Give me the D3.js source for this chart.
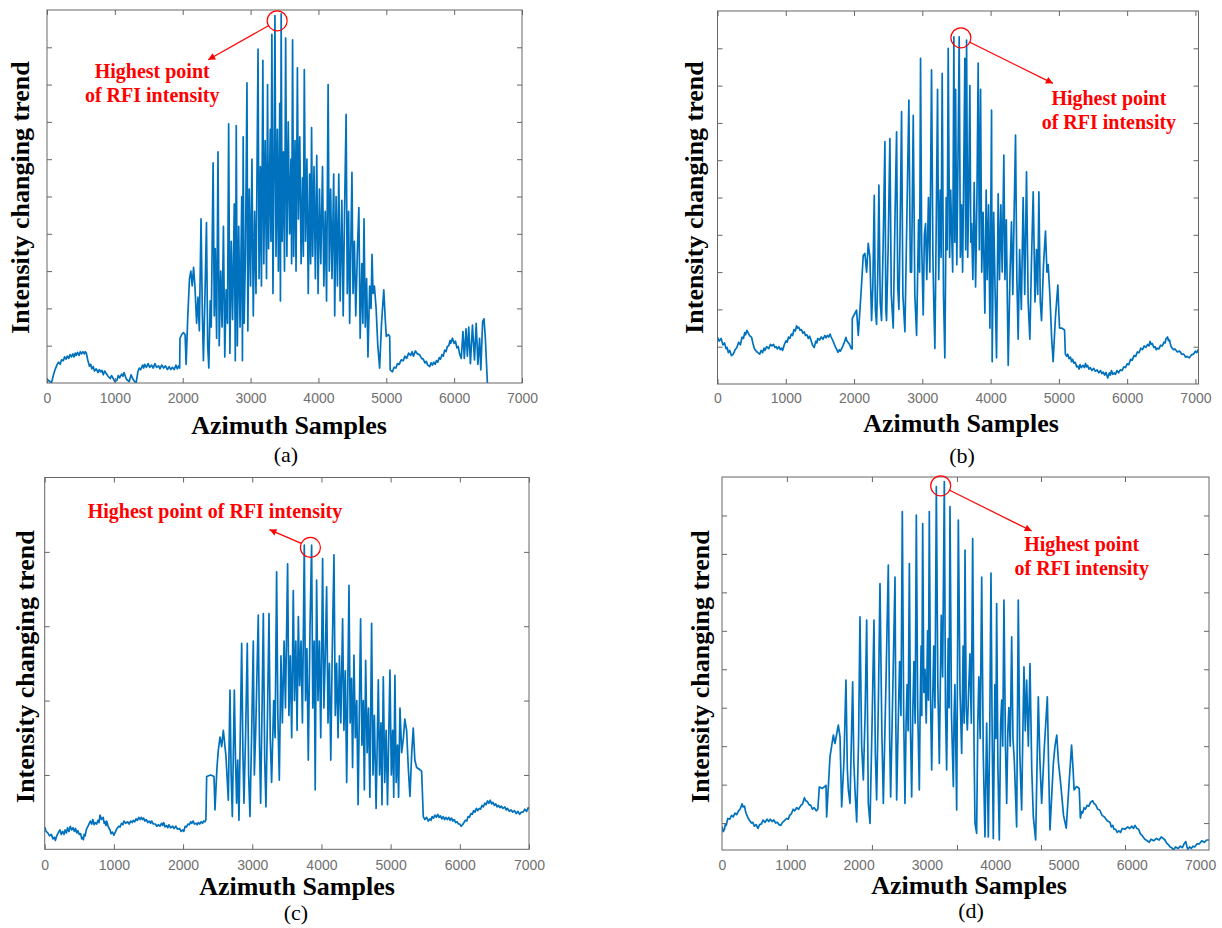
<!DOCTYPE html>
<html>
<head>
<meta charset="utf-8">
<script src="https://cdn.jsdelivr.net/npm/d3@7"></script>
<style>
  body { margin: 0; background: #fff; }
  svg { display: block; }
</style>
</head>
<body>
<svg id="fig" width="1222" height="928"></svg>
<script>
// Tick labels shared by all four x axes
const xTickLabels = [0, 1000, 2000, 3000, 4000, 5000, 6000, 7000]
// In panel (d) the tick marks do not sit under the labels
const tickMarksD = [950, 2195, 3440, 4670, 5900]

// [azimuth sample, intensity]
const trendA = [
  [0,0.1],[40,0.04],[66,0],[90,0.18],[117,0.35],[150,0.5],[170,0.56],[193,0.5],[215,0.62],[240,0.6],[260,0.7],[280,0.64],[300,0.72],[321,0.66],[340,0.76],[360,0.7],[380,0.78],[397,0.7],[415,0.8],[430,0.74],[450,0.82],[473,0.74],[490,0.84],[510,0.78],[530,0.84],[550,0.78],[565,0.84],[580,0.8],[600,0.62],[626,0.45],[645,0.5],[660,0.38],[680,0.44],[700,0.32],[725,0.38],[753,0.28],[770,0.36],[790,0.3],[810,0.34],[830,0.22],[850,0.32],[870,0.26],[900,0.18],[931,0.12],[950,0.2],[970,0.14],[1000,0.04],[1033,0.08],[1050,0.2],[1070,0.14],[1100,0.24],[1120,0.18],[1135,0.28],[1170,0.1],[1211,0.04],[1240,0.22],[1262,0.12],[1290,0.04],[1313,0],[1339,0.3],[1360,0.4],[1380,0.36],[1410,0.48],[1425,0.4],[1440,0.5],[1465,0.42],[1490,0.52],[1515,0.42],[1542,0.48],[1565,0.4],[1590,0.52],[1615,0.42],[1644,0.46],[1665,0.38],[1690,0.48],[1720,0.4],[1746,0.46],[1775,0.36],[1800,0.44],[1825,0.36],[1848,0.42],[1875,0.36],[1900,0.48],[1920,0.38],[1940,0.46],[1955,0.4],
  [1960,1.2],[1985,1.3],[2010,1.35],[2035,1.3],[2050,0.5],[2075,1.8],[2100,2.8],[2120,3.0],[2140,2.6],[2160,3.1],[2180,2.6],[2205,1.6],[2225,2.3],[2245,1.4],[2270,4.4],[2290,1.8],[2305,0.6],[2330,2.5],[2350,4.3],[2368,1.0],[2385,0.4],[2405,2.2],[2420,1.5],[2448,5.9],[2465,1.8],[2480,3.6],[2500,1.2],[2520,6.2],[2538,1.0],[2560,3.0],[2580,1.5],[2600,4.2],[2620,0.7],[2640,2.5],[2660,1.6],[2677,6.95],[2695,0.8],[2715,3.8],[2735,1.7],[2760,4.8],[2775,0.6],[2789,6.9],[2805,1.0],[2825,4.2],[2845,1.5],[2870,5.0],[2880,0.6],[2891,6.6],[2905,1.6],[2925,3.5],[2947,8.05],[2960,1.4],[2980,5.2],
  [3000,2.6],[3020,6.0],[3040,1.8],[3060,4.6],[3080,2.4],[3110,8.95],[3125,2.8],[3145,5.8],[3160,2.6],[3181,8.65],[3195,3.2],[3215,6.5],[3235,2.8],[3250,8.0],[3265,3.6],[3290,6.8],[3300,3.8],[3314,9.35],[3330,2.4],[3345,5.6],[3359,9.85],[3375,3.4],[3395,6.8],[3410,3.0],[3430,7.5],[3440,2.2],[3451,9.9],[3465,3.8],[3485,6.2],[3500,3.0],[3517,9.25],[3535,3.4],[3555,7.0],[3575,4.0],[3595,6.0],[3605,3.2],[3619,9.2],[3635,3.4],[3655,6.5],[3670,3.0],[3690,8.45],[3705,4.4],[3725,6.6],[3745,3.2],[3765,5.5],[3778,3.4],[3792,8.4],[3810,3.8],[3830,6.0],[3850,2.4],[3870,5.6],[3885,3.2],[3899,6.85],[3915,3.4],[3935,5.8],[3955,2.8],[3975,6.1],[3995,2.4],[4015,5.2],[4035,3.2],[4060,5.8],[4080,2.6],[4100,4.6],[4120,2.2],[4143,8.0],[4160,3.0],[4180,5.2],[4200,2.8],[4225,5.6],[4240,1.8],[4260,5.0],[4280,2.6],[4300,5.6],[4320,2.2],[4345,4.9],[4365,1.8],[4385,4.6],[4408,7.2],[4425,2.4],
  [4445,4.6],[4460,1.6],[4494,5.65],[4510,2.4],[4530,3.8],[4550,1.8],[4575,3.6],[4596,4.7],[4615,1.2],[4640,3.2],[4655,1.6],[4672,4.4],[4690,1.5],[4710,2.8],[4730,0.7],[4755,2.6],[4775,2.0],[4790,3.45],[4805,2.4],[4825,2.6],[4850,2.0],[4875,1.0],[4902,0.4],[4930,1.6],[4963,2.5],[4985,1.7],[5000,1.25],[5030,1.3],[5050,1.25],
  [5058,0.35],[5090,0.3],[5115,0.42],[5140,0.4],[5165,0.52],[5190,0.5],[5220,0.62],[5250,0.6],[5275,0.72],[5300,0.66],[5330,0.8],[5360,0.74],[5380,0.84],[5400,0.72],[5430,0.86],[5460,0.78],[5490,0.76],[5520,0.66],[5545,0.64],[5570,0.54],[5590,0.58],[5610,0.48],[5640,0.44],[5660,0.54],[5680,0.48],[5700,0.56],[5720,0.5],[5740,0.6],[5760,0.56],[5780,0.68],[5800,0.64],[5820,0.76],[5840,0.72],[5860,0.88],[5880,0.84],[5900,0.98],[5920,1.0],[5940,1.14],[5950,1.06],[5975,1.2],[6000,1.06],[6020,1.12],[6040,0.94],[6060,0.98],[6080,0.78],[6105,0.66],[6130,1.38],[6150,0.66],[6175,1.45],[6195,0.72],[6215,1.5],[6240,0.52],[6270,1.55],[6300,0.62],[6325,1.6],[6350,0.5],[6375,1.2],[6393,0.35],[6420,1.65],[6440,1.72],[6460,1.2],[6490,0]
]

const trendB = [
  [0,1.25],[25,1.15],[52,1.22],[80,1.05],[103,1.1],[125,0.95],[140,0.98],[160,0.84],[180,0.9],[205,0.76],[232,0.8],[258,0.92],[283,0.98],[310,1.12],[335,1.05],[360,1.26],[380,1.22],[400,1.38],[412,1.32],[430,1.44],[448,1.38],[470,1.3],[500,1.25],[520,1.08],[540,0.95],[567,0.88],[590,0.84],[618,0.8],[640,0.9],[660,0.84],[680,0.96],[695,0.9],[720,1.0],[750,0.95],[775,1.06],[798,1.02],[820,1.06],[840,0.98],[860,1.0],[876,0.94],[900,1.0],[920,0.92],[940,0.96],[953,0.9],[980,1.06],[1004,1.16],[1020,1.12],[1040,1.26],[1060,1.22],[1082,1.34],[1100,1.3],[1120,1.46],[1140,1.42],[1159,1.56],[1175,1.5],[1190,1.52],[1210,1.44],[1230,1.46],[1250,1.36],[1270,1.4],[1288,1.3],[1310,1.32],[1330,1.22],[1350,1.28],[1365,1.2],[1390,1.05],[1416,0.98],[1440,1.15],[1455,1.1],[1468,1.22],[1495,1.18],[1520,1.26],[1545,1.2],[1571,1.3],[1590,1.24],[1610,1.3],[1630,1.26],[1648,1.34],[1665,1.26],[1680,1.2],[1700,1.12],[1720,1.02],[1740,0.95],[1766,0.85],[1785,0.92],[1800,0.88],[1828,0.98],[1845,1.06],[1860,1.12],[1880,1.25],[1895,1.16],[1910,1.12],[1931,1.07],[1960,0.95],[1972,0.94],
  [1974,1.76],[2000,1.85],[2037,1.98],[2062,1.3],[2101,2.4],[2135,3.45],[2159,3.5],[2184,3.0],[2208,3.77],[2232,3.4],[2257,1.7],[2275,2.6],[2296,5.06],[2312,2.0],[2330,1.6],[2348,3.0],[2364,5.33],[2383,2.2],[2403,1.7],[2425,3.6],[2452,6.5],[2465,2.0],[2476,1.7],[2500,3.7],[2525,6.58],[2545,2.4],[2574,1.5],[2600,4.5],[2623,6.76],[2640,2.6],[2657,2.0],[2675,4.2],[2696,7.3],[2715,2.4],[2745,1.4],[2775,4.6],[2803,7.61],[2825,3.0],[2842,3.0],[2867,7.2],[2890,2.4],[2916,1.3],
  [2945,4.4],[2960,3.0],[2974,8.73],[2990,3.8],[3013,1.85],[3030,4.0],[3047,4.3],[3065,2.8],[3090,5.0],[3110,3.0],[3135,8.42],[3155,3.4],[3170,2.0],[3184,0.95],[3205,4.5],[3223,7.9],[3240,2.8],[3262,5.2],[3275,3.4],[3291,8.33],[3310,2.4],[3330,0.7],[3350,5.0],[3365,3.6],[3379,9.0],[3400,3.4],[3415,5.2],[3428,4.2],[3445,3.0],[3462,9.31],[3475,3.8],[3487,7.9],[3505,3.2],[3520,5.6],[3540,9.31],[3557,3.4],[3574,4.8],[3590,3.0],[3605,5.4],[3623,8.73],[3635,3.6],[3648,9.22],[3665,3.4],[3680,5.2],[3696,8.0],[3710,3.8],[3721,4.3],[3740,2.8],[3760,5.4],[3780,2.6],[3800,5.0],[3818,8.6],[3835,3.6],[3853,7.9],[3870,3.0],[3890,4.6],[3916,1.9],[3935,5.2],[3950,2.8],[3970,4.8],[3990,1.5],[4014,7.34],[4023,0.6],[4045,4.6],[4065,2.6],[4087,0.7],[4111,5.1],[4130,2.8],[4150,4.8],[4170,3.0],[4194,6.14],[4210,2.8],[4230,4.4],[4258,0.5],[4285,3.0],[4306,4.35],[4325,2.4],[4345,4.6],[4365,6.67],[4385,2.8],[4404,1.2],[4425,3.6],
  [4450,2.0],[4477,5.0],[4500,2.4],[4526,5.69],[4550,2.2],[4575,1.2],[4600,3.4],[4624,5.15],[4650,2.2],[4672,3.6],[4690,2.4],[4707,5.15],[4728,2.2],[4746,1.7],[4775,3.2],[4804,4.1],[4825,3.0],[4843,3.2],[4868,2.4],[4895,1.2],[4916,0.6],[4950,1.8],[4985,2.65],[5000,1.9],[5010,1.5],[5040,1.5],[5083,1.45],
  [5095,0.8],[5115,0.74],[5130,0.8],[5150,0.68],[5170,0.72],[5185,0.6],[5200,0.66],[5220,0.56],[5240,0.58],[5260,0.46],[5279,0.48],[5295,0.4],[5310,0.52],[5330,0.44],[5355,0.5],[5375,0.44],[5390,0.55],[5405,0.46],[5420,0.5],[5440,0.4],[5460,0.44],[5485,0.36],[5510,0.42],[5535,0.34],[5560,0.38],[5585,0.3],[5610,0.36],[5630,0.28],[5650,0.32],[5670,0.24],[5691,0.31],[5715,0.16],[5740,0.3],[5755,0.24],[5770,0.36],[5790,0.26],[5810,0.3],[5830,0.26],[5850,0.36],[5875,0.3],[5900,0.38],[5925,0.36],[5950,0.46],[5975,0.44],[6000,0.54],[6025,0.52],[6050,0.66],[6075,0.64],[6100,0.76],[6125,0.74],[6150,0.86],[6175,0.84],[6200,0.96],[6225,0.92],[6250,1.02],[6275,0.98],[6300,1.06],[6320,1.02],[6335,1.14],[6355,1.06],[6370,1.08],[6390,0.98],[6410,1.0],[6425,0.92],[6440,0.96],[6465,0.94],[6490,1.04],[6515,1.02],[6540,1.12],[6555,1.1],[6570,1.22],[6592,1.26],[6605,1.16],[6620,1.18],[6640,1.02],[6660,0.96],[6680,0.92],[6700,0.94],[6735,0.86],[6770,0.88],[6800,0.8],[6830,0.8],[6855,0.72],[6880,0.74],[6910,0.7],[6940,0.78],[6970,0.8],[7000,0.88],[7020,0.84],[7040,0.92]
]

const trendC = [
  [0,0.3],[20,0.24],[45,0.22],[70,0.18],[95,0.2],[120,0.14],[140,0.16],[155,0.12],[170,0.17],[195,0.22],[220,0.26],[240,0.2],[260,0.24],[280,0.2],[295,0.26],[315,0.22],[330,0.29],[350,0.24],[370,0.31],[390,0.26],[410,0.29],[430,0.24],[445,0.28],[465,0.22],[480,0.25],[500,0.2],[520,0.21],[535,0.14],[545,0.16],[560,0.13],[570,0.2],[585,0.18],[600,0.26],[620,0.3],[640,0.34],[660,0.38],[680,0.34],[695,0.4],[715,0.33],[730,0.36],[750,0.34],[770,0.39],[785,0.36],[800,0.46],[820,0.4],[845,0.43],[860,0.35],[870,0.37],[885,0.32],[895,0.38],[920,0.3],[945,0.26],[960,0.21],[980,0.23],[1000,0.19],[1020,0.23],[1045,0.28],[1070,0.31],[1090,0.3],[1110,0.35],[1130,0.33],[1145,0.38],[1170,0.35],[1200,0.37],[1220,0.34],[1245,0.38],[1265,0.36],[1280,0.39],[1300,0.37],[1320,0.41],[1340,0.39],[1360,0.43],[1380,0.4],[1395,0.43],[1415,0.4],[1430,0.42],[1450,0.38],[1470,0.4],[1490,0.36],[1510,0.38],[1530,0.35],[1545,0.38],[1570,0.34],[1600,0.34],[1620,0.31],[1645,0.33],[1665,0.31],[1690,0.35],[1705,0.32],[1720,0.36],[1740,0.3],[1760,0.32],[1780,0.29],[1795,0.33],[1820,0.29],[1850,0.31],[1870,0.28],[1895,0.31],[1920,0.27],[1950,0.28],[1970,0.24],[1995,0.26],[2010,0.24],[2030,0.31],[2050,0.3],[2070,0.34],[2090,0.33],[2110,0.37],[2125,0.35],[2145,0.38],[2165,0.34],[2190,0.35],[2205,0.33],[2220,0.36],[2240,0.34],[2260,0.37],[2280,0.35],[2295,0.38],[2315,0.37],[2330,0.4],
  [2341,0.98],[2400,1.0],[2447,0.98],[2461,0.53],[2490,1.1],[2509,1.33],[2534,1.51],[2558,1.38],[2582,1.6],[2620,1.25],[2654,0.66],[2678,2.14],[2695,1.0],[2712,0.44],[2741,2.14],[2758,1.2],[2774,0.62],[2790,1.2],[2808,0.39],[2847,2.77],[2865,1.3],[2880,0.62],[2905,1.6],[2928,2.77],[2948,1.0],[2967,0.44],[2990,1.5],[3015,2.8],[3030,1.0],[3050,1.6],[3087,3.15],[3105,1.4],[3121,0.62],[3140,1.8],[3160,3.17],[3180,1.2],[3198,0.57],[3220,1.8],[3242,3.17],[3260,1.5],
  [3280,0.9],[3310,2.0],[3330,1.5],[3352,3.73],[3370,1.8],[3391,0.93],[3415,2.6],[3435,1.7],[3460,2.8],[3480,1.9],[3511,3.84],[3530,1.8],[3550,2.6],[3570,1.5],[3593,3.48],[3610,2.0],[3630,2.8],[3648,1.6],[3666,3.13],[3685,2.2],[3705,2.8],[3725,1.7],[3752,4.09],[3770,2.0],[3790,2.7],[3810,1.2],[3835,3.0],[3858,4.09],[3875,1.9],[3895,2.8],[3910,0.8],[3930,3.62],[3950,2.0],[3970,2.8],[3990,1.5],[4017,3.91],[4035,1.9],[4055,2.6],[4075,3.53],[4095,1.7],[4115,2.5],[4135,1.2],[4155,2.6],[4181,3.96],[4200,1.8],[4220,2.5],[4240,1.5],[4260,2.6],[4280,1.7],[4306,3.1],[4325,1.6],[4345,2.4],[4365,0.9],[4398,3.55],[4415,1.7],[4435,2.3],[4450,1.1],[4470,2.61],[4490,1.5],[4510,2.0],[4530,0.6],[4566,3.1],[4585,1.4],[4605,2.0],[4620,0.8],[4639,2.54],[4660,1.3],[4680,1.9],[4700,0.7],
  [4725,3.04],[4745,1.0],[4765,1.8],[4790,0.55],[4822,2.28],[4840,1.0],[4860,1.7],[4875,0.6],[4894,2.32],[4915,0.9],[4935,1.6],[4955,0.6],[4990,2.41],[5010,1.0],[5030,1.6],[5045,0.7],[5062,2.34],[5080,0.9],[5100,1.4],[5115,0.7],[5135,1.9],[5160,1.3],[5185,1.5],[5205,1.75],[5231,1.6],[5255,1.1],[5279,0.71],[5305,1.3],[5327,1.63],[5350,1.2],[5376,1.1],[5410,1.08],[5448,1.05],
  [5472,0.44],[5495,0.4],[5520,0.43],[5545,0.38],[5570,0.41],[5585,0.39],[5600,0.44],[5620,0.42],[5640,0.46],[5660,0.43],[5680,0.47],[5700,0.43],[5720,0.45],[5740,0.41],[5760,0.44],[5780,0.4],[5800,0.43],[5820,0.4],[5840,0.43],[5860,0.39],[5880,0.42],[5900,0.38],[5920,0.4],[5940,0.36],[5960,0.37],[5980,0.34],[6000,0.34],[6020,0.31],[6040,0.33],[6060,0.36],[6080,0.39],[6100,0.38],[6120,0.44],[6140,0.43],[6160,0.48],[6180,0.47],[6200,0.52],[6220,0.5],[6240,0.55],[6260,0.52],[6280,0.55],[6300,0.54],[6320,0.59],[6340,0.57],[6360,0.62],[6380,0.6],[6400,0.65],[6420,0.62],[6440,0.66],[6460,0.61],[6480,0.63],[6500,0.59],[6520,0.61],[6540,0.57],[6560,0.59],[6580,0.56],[6600,0.58],[6625,0.55],[6650,0.57],[6670,0.53],[6690,0.55],[6715,0.51],[6740,0.53],[6765,0.5],[6790,0.52],[6815,0.48],[6840,0.51],[6865,0.47],[6890,0.5],[6915,0.5],[6940,0.54],[6965,0.51],[6990,0.56],[7000,0.54]
]

const trendD = [
  [0,0.91],[18,0.78],[36,0.84],[50,0.98],[62,0.94],[85,1.12],[113,1.1],[140,1.2],[165,1.16],[190,1.26],[215,1.22],[242,1.32],[265,1.36],[294,1.5],[310,1.42],[330,1.44],[345,1.3],[356,1.24],[380,1.14],[400,1.08],[430,1.0],[450,1.02],[475,0.92],[500,0.96],[526,0.86],[550,0.96],[578,0.98],[600,1.08],[630,1.02],[660,1.1],[685,1.04],[707,1.1],[735,1.04],[760,1.08],[785,1.0],[810,1.02],[835,0.96],[862,0.94],[885,1.02],[913,1.06],[945,1.12],[970,1.1],[990,1.2],[1015,1.24],[1042,1.36],[1065,1.32],[1093,1.4],[1120,1.36],[1155,1.46],[1180,1.5],[1207,1.66],[1225,1.58],[1250,1.56],[1274,1.48],[1300,1.46],[1325,1.36],[1350,1.4],[1380,1.32],[1403,1.36],
  [1425,1.94],[1470,1.9],[1523,1.98],[1532,1.16],[1581,2.72],[1630,3.29],[1654,3.07],[1703,3.55],[1728,3.24],[1752,1.42],[1785,2.6],[1815,4.72],[1835,2.4],[1850,1.86],[1874,1.51],[1913,4.67],[1930,2.6],[1947,1.86],[1972,1.03],[2000,3.2],[2020,6.36],[2045,3.0],[2069,2.12],[2095,3.8],[2118,6.28],[2142,1.51],[2167,0.99],[2195,3.4],[2225,6.28],[2245,2.8],[2264,1.6],[2290,4.2],[2313,7.23],[2340,3.4],[2362,1.51],[2400,4.6],[2435,7.71],[2455,3.2],[2469,1.68],[2500,4.4],[2533,7.4],[2545,3.6],[2557,1.6],
  [2580,3.6],[2600,5.2],[2620,3.8],[2640,9.1],[2660,3.8],[2679,1.51],[2695,3.6],[2710,4.6],[2725,3.4],[2743,7.75],[2760,3.4],[2777,1.68],[2795,4.0],[2810,5.2],[2828,3.6],[2845,9.01],[2865,4.0],[2889,1.86],[2900,3.8],[2915,5.6],[2925,3.8],[2938,8.79],[2955,4.4],[2972,5.0],[2990,3.6],[3010,6.0],[3022,4.2],[3035,9.1],[3052,4.4],[3070,2.38],[3085,4.2],[3100,5.6],[3118,4.0],[3138,9.75],[3160,4.6],[3182,2.55],[3195,4.4],[3210,6.4],[3230,4.8],[3255,9.88],[3272,4.0],[3289,2.38],[3300,4.2],[3312,5.8],[3325,4.0],[3338,9.23],[3360,3.8],[3387,1.95],[3398,3.8],[3410,4.6],[3436,1.34],[3460,8.88],[3485,4.4],[3509,2.81],[3520,4.2],[3530,5.6],[3545,3.6],[3558,8.1],[3575,4.0],[3592,3.42],[3610,4.4],[3630,5.4],[3650,3.6],[3670,8.4],[3690,3.0],[3704,0.99],[3728,0.73],[3745,3.6],[3760,4.8],[3780,3.2],[3802,7.4],[3825,2.8],[3850,0.64],[3875,3.6],[3899,0.64],[3920,3.4],[3938,7.5],[3955,3.4],[3972,0.6],[3995,4.6],[4010,3.2],[4021,6.71],[4040,2.4],[4060,0.56],[4080,3.6],[4095,4.2],[4110,3.0],[4128,6.8],[4150,3.0],[4168,1.51],[4185,3.4],[4200,4.0],[4220,3.0],[4241,5.84],[4260,3.2],[4280,2.6],[4314,0.9],[4338,6.8],[4360,2.8],[4387,1.34],[4405,3.4],[4421,5.06],[4440,3.4],[4460,4.72],[4485,3.0],[4509,5.15],[4535,2.4],[4558,1.16],
  [4592,0.56],[4631,4.28],[4655,2.6],[4680,1.51],[4720,3.0],[4763,4.28],[4785,2.2],[4802,0.82],[4851,2.55],[4875,3.0],[4901,3.29],[4925,2.6],[4960,2.0],[5000,1.2],[5040,0.87],[5080,2.0],[5118,3.03],[5140,2.4],[5155,1.86],[5190,1.95],[5230,1.9],
  [5247,1.13],[5265,1.3],[5280,1.26],[5300,1.4],[5320,1.36],[5345,1.46],[5370,1.44],[5395,1.54],[5427,1.58],[5450,1.5],[5470,1.48],[5500,1.36],[5530,1.34],[5565,1.2],[5600,1.16],[5640,1.06],[5680,1.02],[5700,0.9],[5720,0.94],[5740,0.84],[5762,0.84],[5785,0.76],[5810,0.8],[5835,0.76],[5860,0.86],[5900,0.84],[5940,0.9],[5970,0.86],[6000,0.92],[6025,0.86],[6046,0.94],[6075,0.86],[6100,0.84],[6125,0.72],[6150,0.68],[6190,0.58],[6227,0.54],[6255,0.5],[6280,0.58],[6320,0.54],[6360,0.6],[6400,0.56],[6430,0.64],[6459,0.6],[6485,0.56],[6510,0.48],[6535,0.44],[6562,0.38],[6585,0.36],[6610,0.3],[6640,0.38],[6680,0.34],[6710,0.4],[6740,0.36],[6765,0.46],[6790,0.52],[6805,0.4],[6820,0.32],[6845,0.38],[6870,0.34],[6895,0.4],[6920,0.38],[6955,0.46],[6990,0.46],[7025,0.54],[7060,0.5],[7095,0.56],[7130,0.56]
]

// Where each red circle sits: [sample, intensity]
const peakA = [3392, 9.71]
const peakB = [3565, 9.28]
const peakC = [3841, 4.06]
const peakD = [3202, 9.77]

const note2 = ['Highest point', 'of RFI intensity']
const note1 = ['Highest point of RFI intensity']

const panels = [
  { data: trendA, xDomain: [0, 7000], yDomain: [0, 10], yTicks: d3.range(1, 10), marks: xTickLabels,
    left: 47, right: 522, top: 10, bottom: 383, labelPad: 10,
    yLabel: [29, 197.5], xLabel: [289, 434], caption: ['(a)', 286, 462],
    peak: peakA, tip: [-69, 39], note: note2, noteAt: [-125, 57] },
  { data: trendB, xDomain: [0, 7045], yDomain: [0, 10], yTicks: d3.range(1, 10), marks: xTickLabels,
    left: 717.5, right: 1198.5, top: 11, bottom: 384, labelPad: 9,
    yLabel: [703, 197.5], xLabel: [961, 432], caption: ['(b)', 962, 463],
    peak: peakB, tip: [92, 45.5], note: note2, noteAt: [148, 67.5] },
  { data: trendC, xDomain: [0, 7000], yDomain: [0, 5], yTicks: d3.range(1, 5), marks: xTickLabels,
    left: 44.7, right: 529, top: 477.5, bottom: 849.3, labelPad: 11,
    yLabel: [33.7, 666.7], xLabel: [297, 895], caption: ['(c)', 296, 920],
    peak: peakC, tip: [-41, -17.8], note: note1, noteAt: [-95.5, -29.3] },
  { data: trendD, xDomain: [0, 7130], yDomain: [0.3, 10], yTicks: d3.range(1, 10), marks: tickMarksD,
    left: 722, right: 1209, top: 477, bottom: 850, labelPad: 10,
    yLabel: [709, 666.7], xLabel: [969, 894], caption: ['(d)', 971, 918],
    peak: peakD, tip: [91, 45.2], note: note2, noteAt: [141, 65.5] }
]

const svg = d3.select('#fig')
const boxColor = '#666'
const red = '#f00'
const serif = '"Liberation Serif", "Times New Roman", serif'

svg.append('defs').append('marker')
  .attr('id', 'arrow')
  .attr('viewBox', '0 0 10 10')
  .attr('refX', 10).attr('refY', 5)
  .attr('markerWidth', 8).attr('markerHeight', 7)
  .attr('markerUnits', 'userSpaceOnUse')
  .attr('orient', 'auto')
  .append('path')
  .attr('d', 'M0,0L10,5L0,10z')
  .attr('fill', red)

panels.forEach((p, i) => {
  const x = d3.scaleLinear().domain(p.xDomain).range([p.left, p.right])
  const y = d3.scaleLinear().domain(p.yDomain).range([p.bottom, p.top])
  const g = svg.append('g')

  g.append('clipPath').attr('id', 'clip' + i)
    .append('rect')
    .attr('x', p.left).attr('y', p.top)
    .attr('width', p.right - p.left).attr('height', p.bottom - p.top)

  // the trace
  const line = d3.line().x(d => x(d[0])).y(d => y(d[1]))
  g.append('path')
    .datum(p.data)
    .attr('clip-path', `url(#clip${i})`)
    .attr('fill', 'none')
    .attr('stroke', '#0072bd')
    .attr('stroke-width', 1.7)
    .attr('stroke-linejoin', 'round')
    .attr('d', line)

  // inner tick marks on all four sides
  const marks = [
    [d3.axisBottom(x).tickValues(p.marks), `translate(0,${p.bottom})`],
    [d3.axisTop(x).tickValues(p.marks), `translate(0,${p.top})`],
    [d3.axisLeft(y).tickValues(p.yTicks), `translate(${p.left},0)`],
    [d3.axisRight(y).tickValues(p.yTicks), `translate(${p.right},0)`]
  ]
  marks.forEach(([axis, tr]) => {
    const a = g.append('g').attr('transform', tr)
      .call(axis.tickSize(-5).tickFormat(''))
    a.select('.domain').remove()
    a.selectAll('line').attr('stroke', boxColor)
  })

  // tick labels (no marks)
  const lab = g.append('g').attr('transform', `translate(0,${p.bottom})`)
    .call(d3.axisBottom(x).tickValues(xTickLabels).tickFormat(d3.format('d')).tickSize(0).tickPadding(p.labelPad))
  lab.select('.domain').remove()
  lab.selectAll('text')
    .attr('fill', '#707070')
    .style('font-family', '"Liberation Sans", Arial, sans-serif')
    .style('font-size', '14px')

  g.append('rect')
    .attr('x', p.left).attr('y', p.top)
    .attr('width', p.right - p.left).attr('height', p.bottom - p.top)
    .attr('fill', 'none').attr('stroke', boxColor).attr('stroke-width', 1)

  g.append('text')
    .attr('transform', `translate(${p.yLabel[0]},${p.yLabel[1]}) rotate(-90)`)
    .attr('text-anchor', 'middle')
    .style('font-family', serif).style('font-weight', 'bold').style('font-size', '26px')
    .text('Intensity changing trend')

  g.append('text')
    .attr('x', p.xLabel[0]).attr('y', p.xLabel[1])
    .attr('text-anchor', 'middle')
    .style('font-family', serif).style('font-weight', 'bold').style('font-size', '26px')
    .text('Azimuth Samples')

  g.append('text')
    .attr('x', p.caption[1]).attr('y', p.caption[2])
    .attr('text-anchor', 'middle')
    .style('font-family', serif).style('font-size', '22px')
    .text(p.caption[0])

  // annotation: circle on the peak, arrow, red note
  const cx = x(p.peak[0])
  const cy = y(p.peak[1])
  const r = 10
  const len = Math.hypot(p.tip[0], p.tip[1])
  g.append('circle')
    .attr('cx', cx).attr('cy', cy).attr('r', r)
    .attr('fill', 'none').attr('stroke', red).attr('stroke-width', 1.2)
  g.append('line')
    .attr('x1', cx + r * p.tip[0] / len).attr('y1', cy + r * p.tip[1] / len)
    .attr('x2', cx + p.tip[0]).attr('y2', cy + p.tip[1])
    .attr('stroke', red).attr('stroke-width', 1.2)
    .attr('marker-end', 'url(#arrow)')
  p.note.forEach((t, k) => {
    g.append('text')
      .attr('x', cx + p.noteAt[0]).attr('y', cy + p.noteAt[1] + k * 24)
      .attr('text-anchor', 'middle')
      .attr('fill', red)
      .style('font-family', serif).style('font-weight', 'bold').style('font-size', '20px')
      .text(t)
  })
})
</script>
</body>
</html>
